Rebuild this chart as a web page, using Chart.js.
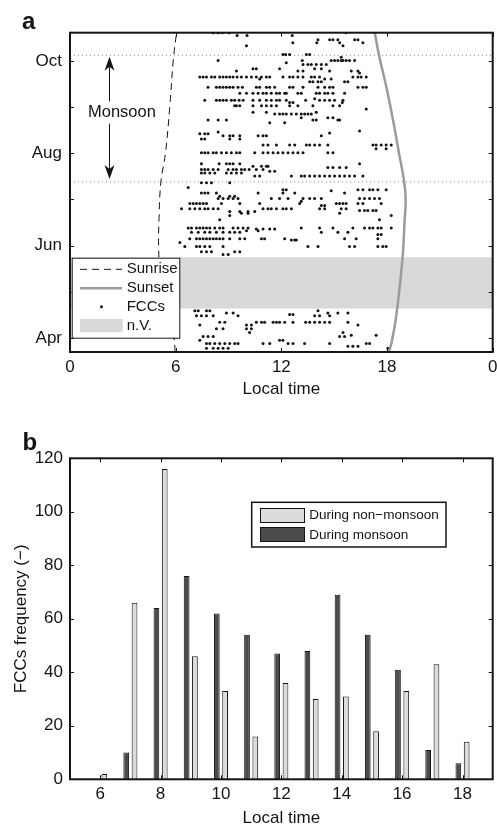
<!DOCTYPE html>
<html>
<head>
<meta charset="utf-8">
<title>FCC timing</title>
<script src="https://cdn.jsdelivr.net/npm/chart.js@4.4.1/dist/chart.umd.min.js"></script>
<style>
  html, body { margin: 0; padding: 0; background: #fff; }
  #wrap { width: 497px; height: 827px; }
  canvas { display: block; }
</style>
</head>
<body>
<div id="wrap">
  <canvas id="panel-a" width="497" height="400"></canvas>
  <canvas id="panel-b" width="497" height="427"></canvas>
</div>
<script>
// ---- panel a: months as decimals (4 = 1 Apr ... 10 = 1 Oct), x = local hour ----
const monthTicks = [4, 5, 6, 7, 8, 9, 10];
const monthNames = { 4: 'Apr', 6: 'Jun', 8: 'Aug', 10: 'Oct' };
const hourTicks = [0, 6, 12, 18, 24];

const sunriseMonth = [3.70, 4.0, 4.5, 5.0, 5.5, 6.0, 6.64, 7.38, 8.0, 9.03, 10.0, 10.62];
const sunriseHour  = [5.97, 5.9, 5.6, 5.3, 5.1, 5.03, 5.06, 5.16, 5.42, 5.67, 5.86, 6.05];
const sunsetMonth  = [3.70, 3.89, 4.39, 5.11, 5.83, 6.55, 7.0, 7.42, 8.0, 8.72, 9.44, 10.13, 10.62];
const sunsetHour   = [18.11, 18.25, 18.49, 18.72, 18.9, 19.0, 19.06, 18.96, 18.68, 18.34, 17.96, 17.54, 17.3];

const monsoonStart = 7.38;
const monsoonEnd = 10.12;
const noDataFrom = 4.64;   // n.V. period
const noDataTo = 5.75;

// each row: [month position, hours of the FCCs seen that day]
const fccRows = [
  [10.61, [8.13, 8.41, 8.65, 9.03, 15.68]],
  [10.55, [9.49, 10.05, 12.62]],
  [10.46, [14.08, 14.74, 14.93, 15.21, 16.16, 16.35]],
  [10.39, [12.65, 14.01, 15.31, 16.63]],
  [10.33, [10.02, 15.5]],
  [10.14, [12.09, 12.24, 12.47, 13.42, 13.61]],
  [10.08, [15.40]],
  [10.01, [8.41, 13.19, 14.83, 15.02, 15.21, 15.40, 15.50, 15.68, 15.87, 16.16]],
  [9.96, [12.28]],
  [9.92, [13.23, 13.51, 13.70, 13.98, 14.27, 14.55]],
  [9.83, [10.39, 10.58, 11.90, 13.89, 14.27]],
  [9.78, [9.45, 12.94, 13.23, 14.74, 15.97, 16.35]],
  [9.74, [16.44]],
  [9.65, [7.37, 7.56, 7.75, 8.03, 8.22, 8.50, 8.69, 8.88, 9.07, 9.26, 9.49, 9.73, 10.02, 10.30, 10.58, 10.87, 11.15, 11.34, 12.09, 12.47, 12.66, 12.94, 13.23, 13.70, 13.89, 14.17, 16.06, 16.35, 16.53, 16.82]],
  [9.61, [10.77, 14.46, 14.83]],
  [9.55, [13.61, 13.79, 14.08, 14.27, 15.59, 15.78]],
  [9.43, [7.84, 8.31, 8.50, 8.69, 8.88, 9.07, 9.26, 9.54, 9.79, 10.58, 10.77, 11.15, 11.34, 11.62, 12.47, 12.66, 13.23, 14.08, 14.46, 14.74, 14.93, 16.35, 16.63, 16.82]],
  [9.30, [9.64, 10.02, 10.39, 10.68, 10.96, 11.15, 11.43, 11.72, 11.90, 12.19, 12.28, 12.94, 13.13, 13.98, 14.17, 14.46, 14.64, 14.93, 15.59]],
  [9.18, [13.89]],
  [9.15, [7.65, 8.31, 8.50, 8.69, 8.88, 9.16, 9.35, 9.60, 9.83, 10.39, 10.77, 11.15, 11.43, 11.72, 11.90, 12.28, 13.38, 14.17, 14.46, 14.74, 15.02, 15.50]],
  [9.10, [12.47, 12.66, 15.46]],
  [9.03, [9.35, 9.45, 9.64, 10.39, 10.87, 11.15, 11.43, 11.72, 12.47, 12.94, 13.79, 14.93, 15.31]],
  [8.96, [16.82]],
  [8.89, [10.39, 11.15, 13.98]],
  [8.85, [11.62, 11.90, 12.09, 12.28, 12.57, 12.85, 13.13, 13.32, 13.51, 13.70]],
  [8.77, [13.13, 14.64, 14.93]],
  [8.72, [7.84, 8.41, 8.88, 13.79, 13.98, 15.21, 15.31]],
  [8.66, [11.34, 12.19]],
  [8.48, [16.44]],
  [8.46, [8.41]],
  [8.44, [14.74]],
  [8.42, [7.37, 7.65, 7.84]],
  [8.38, [8.69, 9.07, 9.26, 9.64, 10.68, 10.96, 11.15, 14.27]],
  [8.31, [7.46, 7.65, 9.07, 9.64]],
  [8.18, [10.96, 11.24, 11.72, 12.47, 12.76, 13.42, 13.61, 13.89, 14.17, 14.64, 17.20, 17.38, 17.67, 17.95, 18.24]],
  [8.10, [17.38, 17.95]],
  [8.01, [7.46, 7.65, 7.84, 8.13, 8.31, 8.60, 8.88, 9.16, 9.45, 9.64, 10.49, 10.96, 11.24, 11.53, 11.81, 12.09, 12.38, 12.66, 12.94, 13.23, 14.64, 14.93]],
  [7.77, [7.46, 8.47, 8.88, 9.07, 9.26, 9.64, 16.44]],
  [7.72, [10.39, 10.87, 11.15, 11.24]],
  [7.69, [14.64, 14.93, 15.31, 15.68]],
  [7.65, [7.46, 7.65, 7.84, 8.13, 8.41, 8.98, 9.26, 9.45, 9.73, 9.92, 10.17, 10.58, 10.96]],
  [7.61, [11.34, 11.62]],
  [7.57, [7.46, 7.65, 7.94, 8.22, 8.88, 9.16, 9.45, 9.73]],
  [7.51, [10.49, 10.77, 12.57, 13.13, 13.32, 13.61, 13.89, 14.17, 14.46, 14.74, 15.02, 15.31, 15.59, 15.87, 16.16, 16.63]],
  [7.36, [7.46, 7.75, 8.03, 9.07]],
  [7.26, [6.71]],
  [7.21, [12.09, 12.28, 16.35, 16.63, 17.01, 17.20, 17.48, 17.95]],
  [7.19, [14.83]],
  [7.14, [7.46, 7.65, 7.84, 8.31, 10.68, 12.09, 12.76, 15.59]],
  [7.07, [8.50, 9.07, 9.35]],
  [7.02, [8.41, 8.69, 8.98, 9.26, 9.54, 11.43, 11.90, 12.38, 13.23, 13.61, 13.89, 14.27, 16.44, 16.72, 17.01, 17.29, 17.57]],
  [6.96, [13.13]],
  [6.91, [6.80, 6.99, 7.18, 7.37, 7.56, 7.75, 8.60, 9.64, 10.77, 13.04, 15.12, 15.31, 15.50, 15.68, 16.35, 16.63, 17.67]],
  [6.87, [14.27, 14.46]],
  [6.80, [6.33, 6.80, 7.09, 7.37, 7.65, 7.84, 8.13, 8.41, 10.96, 11.24, 11.43, 11.72, 12.09, 12.28, 12.57, 14.17, 14.46, 15.40, 15.68]],
  [6.76, [16.44, 16.72, 16.91, 17.20, 17.38]],
  [6.74, [9.07, 9.64, 10.11, 10.49]],
  [6.70, [9.73, 10.11, 15.31]],
  [6.65, [9.07, 18.24]],
  [6.56, [8.50, 17.57]],
  [6.38, [6.71, 6.90, 7.18, 7.37, 7.56, 7.75, 7.94, 8.22, 8.50, 8.69, 9.26, 9.54, 9.83, 10.11, 13.13, 14.17, 14.93, 16.06, 16.72, 17.01, 17.20, 17.48, 17.67, 18.24]],
  [6.36, [10.58, 10.96, 11.34, 11.62]],
  [6.32, [10.02, 10.68]],
  [6.29, [6.90, 7.28, 7.65, 7.94, 8.31, 8.69, 9.07, 9.35, 9.64, 14.27, 15.21, 15.78]],
  [6.24, [17.48, 17.67]],
  [6.15, [6.80, 7.18, 7.37, 7.56, 7.75, 7.94, 8.13, 8.31, 8.50, 8.69, 9.07, 9.64, 9.92, 10.87, 11.05, 12.19, 15.59, 16.25, 17.48]],
  [6.12, [12.57, 12.76, 12.85]],
  [6.07, [6.24]],
  [5.98, [6.52, 7.18, 7.37, 7.65, 7.94, 8.69, 13.51, 14.08, 15.87, 16.16, 17.48, 17.76, 17.95]],
  [5.87, [7.46, 7.75, 8.03, 9.35, 9.64]],
  [5.81, [8.69, 8.98]],
  [4.59, [7.09, 7.28, 7.75, 7.94, 14.08]],
  [4.54, [8.88, 9.26, 14.64, 15.21, 15.78]],
  [4.51, [12.47, 12.66]],
  [4.48, [7.18, 7.46, 7.75, 8.13, 9.54, 13.89, 14.17, 14.74]],
  [4.34, [8.50, 8.79, 10.58, 10.87, 11.05, 11.53, 11.72, 11.90, 12.19, 12.66, 13.38, 13.61, 13.89, 14.17, 14.46, 14.74, 15.78]],
  [4.28, [7.37, 10.02, 10.30, 16.35]],
  [4.20, [8.31, 8.69, 10.02, 10.30]],
  [4.12, [10.20, 15.50]],
  [4.06, [15.97, 17.38]],
  [4.03, [7.56, 7.84, 8.13, 15.31, 15.59]],
  [3.95, [7.37, 11.90, 12.09]],
  [3.88, [7.75, 7.94, 8.22, 8.50, 8.79, 9.07, 9.35, 9.54, 10.96, 11.34, 12.38, 12.66, 13.32, 14.74, 16.82, 17.01]],
  [3.82, [15.78, 16.06, 16.35]],
  [3.78, [7.75, 8.13, 8.41, 8.69, 8.98, 18.05]]
];

// monsoon arrow: hour of the shaft, tips, the break for the label
const arrowHour = 2.23;
const arrowTips = [7.44, 10.09];
const arrowBreak = [8.64, 9.12];
const monsoonLabel = { hour: 2.95, month: 8.88 };

// ---- panel b ----
const barHours = [6, 7, 8, 9, 10, 11, 12, 13, 14, 15, 16, 17, 18];
const monsoonCounts    = [0, 10, 64, 76, 62, 54, 47, 48, 69, 54, 41, 11, 6];
const nonMonsoonCounts = [2, 66, 116, 46, 33, 16, 36, 30, 31, 18, 33, 43, 14];
const freqTicks = [0, 20, 40, 60, 80, 100, 120];
const barHourTicks = [6, 8, 10, 12, 14, 16, 18];

const FONT = "'Liberation Sans', Arial, Helvetica, sans-serif";
const INK = '#141414';
const SUNSET = '#9b9b9b';
const BAND = '#d9d9d9';
const DARK = '#4b4b4b';
const LIGHT = '#dcdcdc';

const tickFont = { family: FONT, size: 17 };

// box plus inward ticks on all four sides
function drawFrame(chart, len) {
  const { ctx, chartArea: a, scales: { x, y } } = chart;
  ctx.save();
  ctx.strokeStyle = INK;
  ctx.lineWidth = 1;
  ctx.beginPath();
  x.ticks.forEach(t => {
    const px = Math.round(x.getPixelForValue(t.value)) + 0.5;
    ctx.moveTo(px, a.bottom); ctx.lineTo(px, a.bottom - len);
    ctx.moveTo(px, a.top); ctx.lineTo(px, a.top + len);
  });
  y.ticks.forEach(t => {
    const py = Math.round(y.getPixelForValue(t.value)) + 0.5;
    ctx.moveTo(a.left, py); ctx.lineTo(a.left + len, py);
    ctx.moveTo(a.right, py); ctx.lineTo(a.right - len, py);
  });
  ctx.stroke();
  ctx.lineWidth = 2;
  ctx.strokeRect(a.left, a.top, a.right - a.left, a.bottom - a.top);
  ctx.restore();
}

function panelLetter(ctx, txt, x, y) {
  ctx.save();
  ctx.fillStyle = INK;
  ctx.font = `bold 24px ${FONT}`;
  ctx.textBaseline = 'alphabetic';
  ctx.fillText(txt, x, y);
  ctx.restore();
}

function arrowHead(ctx, px, py, dir) {
  ctx.beginPath();
  ctx.moveTo(px, py);
  ctx.lineTo(px - 5, py + dir * 14);
  ctx.lineTo(px, py + dir * 10);
  ctx.lineTo(px + 5, py + dir * 14);
  ctx.closePath();
  ctx.fill();
}

function fixedAxis(size, horizontal) {
  return function (scale) {
    if (horizontal) scale.height = size; else scale.width = size;
    scale.paddingLeft = scale.paddingRight = 0;
    scale.paddingTop = scale.paddingBottom = 0;
  };
}

const extrasA = {
  id: 'extrasA',
  afterDatasetsDraw(chart) {
    const { ctx, scales: { x, y } } = chart;
    const ax = Math.round(x.getPixelForValue(arrowHour)) + 0.5;
    const yLow = y.getPixelForValue(arrowTips[0]);
    const yHigh = y.getPixelForValue(arrowTips[1]);
    ctx.save();
    ctx.strokeStyle = INK;
    ctx.fillStyle = INK;
    ctx.lineWidth = 1;
    ctx.beginPath();
    ctx.moveTo(ax, yHigh + 10); ctx.lineTo(ax, y.getPixelForValue(arrowBreak[1]));
    ctx.moveTo(ax, y.getPixelForValue(arrowBreak[0])); ctx.lineTo(ax, yLow - 10);
    ctx.stroke();
    arrowHead(ctx, ax, yHigh, 1);
    arrowHead(ctx, ax, yLow, -1);
    ctx.font = `16.5px ${FONT}`;
    ctx.textAlign = 'center';
    ctx.textBaseline = 'middle';
    ctx.fillText('Monsoon', x.getPixelForValue(monsoonLabel.hour), y.getPixelForValue(monsoonLabel.month));
    ctx.restore();

    drawFrame(chart, 4);

    // legend, lower left inside the axes
    const bx = 71.7, by = 257.7, bw = 107.6, bh = 80;
    const rows = [269.3, 288.3, 306.7, 325.5];
    ctx.save();
    ctx.fillStyle = '#fff';
    ctx.fillRect(bx, by, bw, bh);
    ctx.strokeStyle = INK;
    ctx.lineWidth = 1;
    ctx.strokeRect(bx + 0.5, by + 0.5, bw, bh);
    ctx.setLineDash([7, 5]);
    ctx.beginPath(); ctx.moveTo(80, rows[0]); ctx.lineTo(122, rows[0]); ctx.stroke();
    ctx.setLineDash([]);
    ctx.strokeStyle = SUNSET;
    ctx.lineWidth = 2.5;
    ctx.beginPath(); ctx.moveTo(80, rows[1]); ctx.lineTo(122, rows[1]); ctx.stroke();
    ctx.fillStyle = INK;
    ctx.beginPath(); ctx.arc(101.5, rows[2], 1.5, 0, Math.PI * 2); ctx.fill();
    ctx.fillStyle = BAND;
    ctx.fillRect(80, rows[3] - 6.5, 42.7, 13.3);
    ctx.fillStyle = INK;
    ctx.font = `15px ${FONT}`;
    ctx.textBaseline = 'middle';
    ['Sunrise', 'Sunset', 'FCCs', 'n.V.'].forEach((t, i) => ctx.fillText(t, 126.7, rows[i]));
    ctx.restore();

    panelLetter(ctx, 'a', 22, 28.5);
  }
};

const fccPoints = [];
fccRows.forEach(([m, hrs]) => hrs.forEach(h => fccPoints.push({ x: h, y: m })));

new Chart(document.getElementById('panel-a'), {
  type: 'scatter',
  data: {
    datasets: [
      {
        type: 'line', label: 'n.V.', order: 10,
        data: [{ x: 0, y: noDataTo }, { x: 24, y: noDataTo }],
        fill: { value: noDataFrom }, backgroundColor: BAND,
        borderWidth: 0, pointRadius: 0
      },
      {
        type: 'line', label: 'monsoon start', order: 9,
        data: [{ x: 0, y: monsoonStart }, { x: 24, y: monsoonStart }],
        borderColor: '#8a8a8a', borderWidth: 1, borderDash: [1, 3], pointRadius: 0, fill: false
      },
      {
        type: 'line', label: 'monsoon end', order: 9,
        data: [{ x: 0, y: monsoonEnd }, { x: 24, y: monsoonEnd }],
        borderColor: '#8a8a8a', borderWidth: 1, borderDash: [1, 3], pointRadius: 0, fill: false
      },
      {
        label: 'FCCs', order: 5, data: fccPoints,
        pointRadius: 1.5, pointBackgroundColor: INK, pointBorderWidth: 0
      },
      {
        type: 'line', label: 'Sunset', order: 3,
        data: sunsetMonth.map((m, i) => ({ x: sunsetHour[i], y: m })),
        borderColor: SUNSET, borderWidth: 2.5, pointRadius: 0, tension: 0.4, fill: false
      },
      {
        type: 'line', label: 'Sunrise', order: 2,
        data: sunriseMonth.map((m, i) => ({ x: sunriseHour[i], y: m })),
        borderColor: INK, borderWidth: 1, borderDash: [7, 5], pointRadius: 0, tension: 0.4, fill: false
      }
    ]
  },
  options: {
    responsive: false, animation: false, events: [],
    layout: { padding: { top: 32.7, right: 4.3, left: 0, bottom: 0 } },
    plugins: { legend: { display: false }, tooltip: { enabled: false } },
    scales: {
      x: {
        type: 'linear', min: 0, max: 24,
        afterBuildTicks: s => { s.ticks = hourTicks.map(v => ({ value: v })); },
        afterFit: fixedAxis(48, true),
        grid: { display: false, drawTicks: false }, border: { display: false },
        ticks: { font: tickFont, color: INK, padding: 5, maxRotation: 0, autoSkip: false,
                 callback: v => (v === 24 ? '0' : String(v)) },
        title: { display: true, text: 'Local time', font: tickFont, color: INK, padding: { top: 0, bottom: 0 } }
      },
      y: {
        type: 'linear', min: 3.697, max: 10.61,
        afterBuildTicks: s => { s.ticks = monthTicks.map(v => ({ value: v })); },
        afterFit: fixedAxis(70, false),
        grid: { display: false, drawTicks: false }, border: { display: false },
        ticks: { font: tickFont, color: INK, padding: 8, autoSkip: false,
                 callback: v => monthNames[v] || '' }
      }
    }
  },
  plugins: [extrasA]
});

const extrasB = {
  id: 'extrasB',
  afterDatasetsDraw(chart) {
    const { ctx } = chart;
    drawFrame(chart, 4);
    const bx = 251.7, by = 102.3, bw = 194.3, bh = 44.7;
    ctx.save();
    ctx.fillStyle = '#fff';
    ctx.fillRect(bx, by, bw, bh);
    ctx.strokeStyle = INK;
    ctx.lineWidth = 1.5;
    ctx.strokeRect(bx, by, bw, bh);
    ctx.lineWidth = 1;
    ctx.fillStyle = LIGHT;
    ctx.fillRect(260, 108.3, 44, 14);
    ctx.strokeRect(260.5, 108.5, 44, 14);
    ctx.fillStyle = DARK;
    ctx.fillRect(260, 127.7, 44, 14);
    ctx.strokeRect(260.5, 127.5, 44, 14);
    ctx.fillStyle = INK;
    ctx.font = `13.5px ${FONT}`;
    ctx.textBaseline = 'middle';
    ctx.fillText('During non\u2212monsoon', 309.3, 115.5);
    ctx.fillText('During monsoon', 309.3, 134.8);
    ctx.restore();
    panelLetter(ctx, 'b', 22.5, 50);
  }
};

new Chart(document.getElementById('panel-b'), {
  type: 'bar',
  data: {
    datasets: [
      {
        label: 'During monsoon',
        data: barHours.map((h, i) => ({ x: h, y: monsoonCounts[i] })),
        backgroundColor: DARK, borderColor: INK, borderWidth: 1, borderSkipped: 'start'
      },
      {
        label: 'During non\u2212monsoon',
        data: barHours.map((h, i) => ({ x: h, y: nonMonsoonCounts[i] })),
        backgroundColor: LIGHT, borderColor: INK, borderWidth: 1, borderSkipped: 'start'
      }
    ]
  },
  options: {
    responsive: false, animation: false, events: [],
    categoryPercentage: 0.55, barPercentage: 0.69,
    layout: { padding: { top: 58.3, right: 4.3, left: 0, bottom: 0 } },
    plugins: { legend: { display: false }, tooltip: { enabled: false } },
    scales: {
      x: {
        type: 'linear', min: 5, max: 19, offset: false,
        afterBuildTicks: s => { s.ticks = barHourTicks.map(v => ({ value: v })); },
        afterFit: fixedAxis(47.7, true),
        grid: { display: false, drawTicks: false, offset: false }, border: { display: false },
        ticks: { font: tickFont, color: INK, padding: 5, maxRotation: 0, autoSkip: false },
        title: { display: true, text: 'Local time', font: tickFont, color: INK, padding: { top: 0, bottom: -2 } }
      },
      y: {
        type: 'linear', min: 0, max: 120,
        afterBuildTicks: s => { s.ticks = freqTicks.map(v => ({ value: v })); },
        afterFit: fixedAxis(70, false),
        grid: { display: false, drawTicks: false }, border: { display: false },
        ticks: { font: tickFont, color: INK, padding: 7, autoSkip: false },
        title: { display: true, text: 'FCCs frequency (\u2212)', font: tickFont, color: INK, padding: { top: 11.5, bottom: 0 } }
      }
    }
  },
  plugins: [extrasB]
});
</script>
</body>
</html>
